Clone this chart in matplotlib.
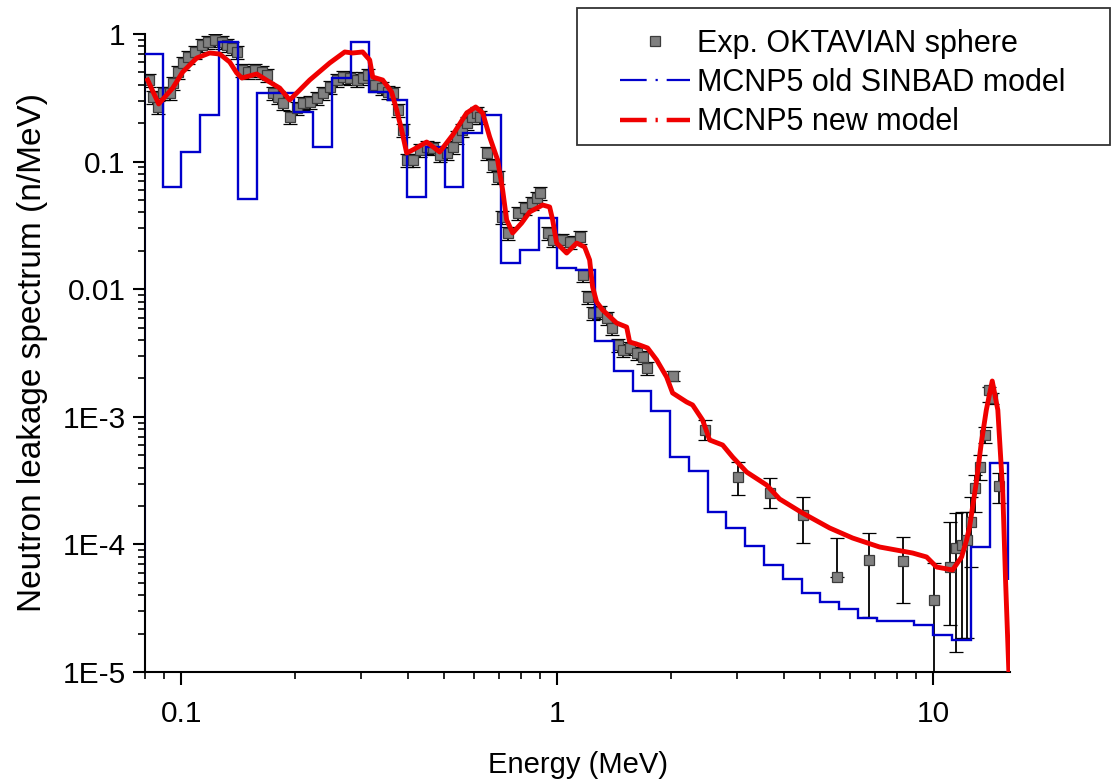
import matplotlib
matplotlib.use("Agg")
import matplotlib.pyplot as plt
import matplotlib.ticker as mticker
from matplotlib.lines import Line2D
from matplotlib.patches import Rectangle
import numpy as np

plt.rcParams["font.family"] = ["Liberation Sans", "DejaVu Sans"]

# --- Experiment, dense part (0.08 - 1.8 MeV), small errors ---
exp_dense_energy = [
    0.0819, 0.0839, 0.0865, 0.0892, 0.0931, 0.0948, 0.0978, 0.1008, 0.1039, 0.1085,
    0.1133, 0.1175, 0.1226, 0.1280, 0.1320, 0.1361, 0.1403, 0.1447, 0.1501, 0.1567,
    0.1635, 0.1686, 0.1749, 0.1804, 0.1860, 0.1941, 0.2026, 0.2102, 0.2194, 0.2291,
    0.2376, 0.2480, 0.2589, 0.2686, 0.2803, 0.2926, 0.3036, 0.3130, 0.3267, 0.3411,
    0.3538, 0.3648, 0.3762, 0.3879, 0.3975, 0.4124, 0.4304, 0.4493, 0.4661, 0.4865,
    0.5078, 0.5268, 0.5398, 0.5566, 0.5740, 0.5918, 0.6102, 0.6215, 0.6487, 0.6730,
    0.6939, 0.7111, 0.7377, 0.7842, 0.8186, 0.8545, 0.8811, 0.8975, 0.9423, 0.9716,
    1.0267, 1.0782, 1.1464, 1.1677, 1.2040, 1.2414, 1.2957, 1.3525, 1.3946, 1.4467,
    1.4918, 1.5570, 1.6252, 1.6860, 1.7277,
]
exp_dense_flux = [
    0.436, 0.321, 0.268, 0.345, 0.345, 0.413, 0.504, 0.593, 0.660, 0.723,
    0.820, 0.866, 0.898, 0.866, 0.820, 0.777, 0.723, 0.522, 0.504, 0.522,
    0.504, 0.477, 0.345, 0.321, 0.288, 0.224, 0.263, 0.288, 0.293, 0.315,
    0.345, 0.384, 0.436, 0.460, 0.452, 0.436, 0.452, 0.477, 0.398, 0.377,
    0.351, 0.345, 0.254, 0.177, 0.103, 0.103, 0.123, 0.130, 0.128, 0.113,
    0.117, 0.130, 0.156, 0.177, 0.201, 0.224, 0.240, 0.224, 0.117, 0.094,
    0.0757, 0.0368, 0.0276, 0.0396, 0.0433, 0.0474, 0.0519, 0.0568, 0.0276, 0.0243,
    0.0243, 0.0234, 0.0257, 0.0129, 0.00869, 0.00651, 0.00663, 0.00595, 0.00497, 0.00365,
    0.00334, 0.00346, 0.00316, 0.00294, 0.00241,
]
exp_dense_rel_err = 0.12

exp_sparse_energy = [2.026, 2.465, 3.017, 3.670, 4.491, 5.534, 6.730, 8.284, 10.02, 11.05,
                     11.46, 11.89, 12.26, 12.57, 12.88, 13.28, 13.69, 14.03, 14.29, 14.92]
exp_sparse_flux = [2.09e-3, 7.88e-4, 3.38e-4, 2.53e-4, 1.70e-4, 5.55e-5, 7.55e-5, 7.41e-5, 3.67e-5, 6.65e-5,
                   9.37e-5, 9.89e-5, 1.08e-4, 1.50e-4, 2.77e-4, 4.04e-4, 7.20e-4, 1.62e-3, 1.40e-3, 2.87e-4]
exp_sparse_upper = [2.30e-3, 9.44e-4, 4.43e-4, 3.31e-4, 2.35e-4, 1.12e-4, 1.23e-4, 1.14e-4, 7.15e-5, 1.50e-4,
                    1.76e-4, 1.79e-4, 1.79e-4, 2.35e-4, 3.50e-4, 5.02e-4, 8.32e-4, 1.71e-3, 1.55e-3, 3.63e-4]
exp_sparse_lower = [1.90e-3, 6.58e-4, 2.44e-4, 1.93e-4, 1.03e-4, 5.55e-5, 2.70e-5, 3.47e-5, 1.0e-6, 2.34e-5,
                    1.44e-5, 1.85e-5, 1.85e-5, 6.65e-5, 1.79e-4, 3.20e-4, 6.24e-4, 1.31e-3, 1.25e-3, 2.11e-4]

# --- MCNP5 old SINBAD model: histogram, 20 bins per decade ---
old_edges = [
    0.0794, 0.0891, 0.1000, 0.1122, 0.1259, 0.1413, 0.1585, 0.1778, 0.1995, 0.2239,
    0.2512, 0.2818, 0.3162, 0.3548, 0.3981, 0.4467, 0.5012, 0.5623, 0.6310, 0.7079,
    0.7943, 0.8913, 1.000, 1.122, 1.259, 1.413, 1.585, 1.778, 1.995, 2.239,
    2.512, 2.818, 3.162, 3.548, 3.981, 4.467, 5.012, 5.623, 6.310, 7.079,
    7.943, 8.913, 10.00, 11.22, 12.59, 14.13, 15.85,
]
old_flux = [
    0.697, 0.0632, 0.119, 0.232, 0.866, 0.0509, 0.345, 0.345, 0.245, 0.130,
    0.452, 0.866, 0.351, 0.304, 0.0528, 0.130, 0.0632, 0.168, 0.232, 0.0160,
    0.0203, 0.0361, 0.01466, 0.01413, 0.00393, 0.00229, 0.00159, 0.00111, 4.84e-4, 3.76e-4,
    1.79e-4, 1.35e-4, 9.7e-5, 6.9e-5, 5.36e-5, 4.16e-5, 3.54e-5, 3.12e-5, 2.65e-5, 2.51e-5,
    2.51e-5, 2.34e-5, 1.95e-5, 1.78e-5, 9.5e-5, 4.35e-4,
]
old_tail = 5.3e-5

# --- MCNP5 new model ---
new_energy = [
    0.0813, 0.0870, 0.0948, 0.1008, 0.1098, 0.1189, 0.1264, 0.1344, 0.1403, 0.1447,
    0.1586, 0.1717, 0.1826, 0.1941, 0.2064, 0.2194, 0.2480, 0.2719, 0.2855, 0.3035,
    0.3168, 0.3227, 0.3430, 0.3624, 0.3737, 0.3853, 0.3973, 0.4122, 0.4492, 0.4864,
    0.5267, 0.5738, 0.6063, 0.6330, 0.6606, 0.6937, 0.7153, 0.7330, 0.7606, 0.8036,
    0.8440, 0.9140, 0.9539, 0.9716, 0.9957, 1.0586, 1.1255, 1.1820, 1.2186, 1.2412,
    1.2720, 1.3198, 1.4382, 1.5289, 1.5570, 1.6553, 1.7385, 1.8369, 1.9528, 2.0257,
    2.2075, 2.2898, 2.4340, 2.5414, 2.7524, 2.9256, 3.1881, 3.6026, 3.9007, 4.4915,
    5.3004, 6.1009, 7.1990, 8.8117, 9.5983, 10.205, 11.254, 11.893, 12.264, 12.49,
    13.01, 13.42, 13.84, 14.35, 14.85, 15.31, 15.57, 15.89,
]
new_flux = [
    0.436, 0.283, 0.377, 0.504, 0.648, 0.710, 0.697, 0.603, 0.495, 0.452,
    0.486, 0.420, 0.377, 0.304, 0.364, 0.436, 0.593, 0.723, 0.710, 0.723,
    0.626, 0.460, 0.436, 0.351, 0.254, 0.177, 0.1168, 0.1233, 0.1424, 0.1189,
    0.1616, 0.2404, 0.2679, 0.2404, 0.1559, 0.1029, 0.0599, 0.0349, 0.0276, 0.0330,
    0.0403, 0.0457, 0.0441, 0.0349, 0.0230, 0.0192, 0.0230, 0.0214, 0.01694, 0.01041,
    0.00794, 0.00687, 0.00543, 0.00505, 0.00386, 0.00365, 0.00346, 0.00279, 0.00205, 0.001537,
    0.001306, 0.001238, 9.44e-4, 6.58e-4, 6.01e-4, 4.84e-4, 3.69e-4, 2.92e-4, 2.27e-4, 1.76e-4,
    1.345e-4, 1.122e-4, 9.54e-5, 8.56e-5, 7.97e-5, 6.65e-5, 6.30e-5, 7.97e-5, 1.083e-4, 1.37e-4,
    3.03e-4, 6.23e-4, 1.131e-3, 1.908e-3, 1.131e-3, 2.53e-4, 5.26e-5, 1.0e-5,
]

x_ticks = [0.1, 1, 10]
x_tick_labels = ["0.1", "1", "10"]
y_ticks = [1e-5, 1e-4, 1e-3, 1e-2, 1e-1, 1]
y_tick_labels = ["1E-5", "1E-4", "1E-3", "0.01", "0.1", "1"]

BLUE = "#0000cc"
RED = "#f00000"

fig = plt.figure(figsize=(11.18, 7.79), dpi=100)
fig.patch.set_facecolor("white")
ax = fig.add_axes([145 / 1118, 107 / 779, 865 / 1118, 638 / 779])

# experiment
d_flux = np.array(exp_dense_flux)
d_err = d_flux * exp_dense_rel_err
s_flux = np.array(exp_sparse_flux)
s_lo = s_flux - np.array(exp_sparse_lower)
s_hi = np.array(exp_sparse_upper) - s_flux
e_all = list(exp_dense_energy) + list(exp_sparse_energy)
f_all = np.concatenate([d_flux, s_flux])
err_lo = np.concatenate([d_err, s_lo])
err_hi = np.concatenate([d_err, s_hi])

ax.errorbar(e_all, f_all, yerr=[err_lo, err_hi], fmt="s", ms=6.5,
            mfc="#808080", mec="#3c3c3c", mew=0.9, ecolor="black",
            elinewidth=1.3, capsize=5, capthick=1.4, zorder=2)

# old model histogram
ax.stairs(old_flux, old_edges, baseline=old_tail, color=BLUE, lw=1.7, zorder=3)

# new model
ax.plot(new_energy, new_flux, color=RED, lw=3.5, solid_joinstyle="round", zorder=4)

ax.set_xscale("log")
ax.set_yscale("log")
ax.set_xlim(0.08, 16.0)
ax.set_ylim(1e-5, 1)

ax.set_xticks(x_ticks, labels=x_tick_labels)
ax.set_yticks(y_ticks, labels=y_tick_labels)
ax.xaxis.set_minor_locator(mticker.LogLocator(base=10, subs=range(2, 10), numticks=20))
ax.yaxis.set_minor_locator(mticker.LogLocator(base=10, subs=range(2, 10), numticks=20))
ax.xaxis.set_minor_formatter(mticker.NullFormatter())
ax.yaxis.set_minor_formatter(mticker.NullFormatter())

ax.tick_params(which="major", direction="out", length=9, width=1.5, labelsize=21.5)
ax.tick_params(which="minor", direction="out", length=5, width=1.2)
ax.tick_params(axis="x", which="major", pad=11)
ax.tick_params(axis="y", which="major", pad=5)

for side in ("top", "right"):
    ax.spines[side].set_visible(False)
for side in ("left", "bottom"):
    ax.spines[side].set_linewidth(1.5)

ax.set_xlabel("Energy (MeV)", fontsize=21)
ax.set_ylabel("Neutron leakage spectrum (n/MeV)", fontsize=24)
ax.xaxis.set_label_coords(0.5, -0.124)
ax.yaxis.set_label_coords(-0.112, 0.5)

# legend with a separate frame
handles = [
    Line2D([], [], ls="none", marker="s", ms=6.5, mfc="#808080", mec="#3c3c3c", mew=0.9),
    Line2D([], [], color=BLUE, lw=1.6, ls=(0, (12, 4, 1, 4))),
    Line2D([], [], color=RED, lw=3.2, ls=(0, (6, 2, 0.5, 2))),
]
labels = ["Exp. OKTAVIAN sphere", "MCNP5 old SINBAD model", "MCNP5 new model"]
fig.legend(handles, labels, loc="upper left", bbox_to_anchor=(620 / 1118, 1 - 29 / 779),
           frameon=False, fontsize=22, handlelength=2.3, handletextpad=0.22,
           labelspacing=0.3, borderpad=0, borderaxespad=0, numpoints=1)
fig.patches.append(Rectangle((577 / 1118, 1 - 145 / 779), 533 / 1118, 137 / 779,
                             transform=fig.transFigure, fill=False,
                             edgecolor="#333333", lw=1.3))

fig.savefig("out.png", dpi=100, facecolor="white")
